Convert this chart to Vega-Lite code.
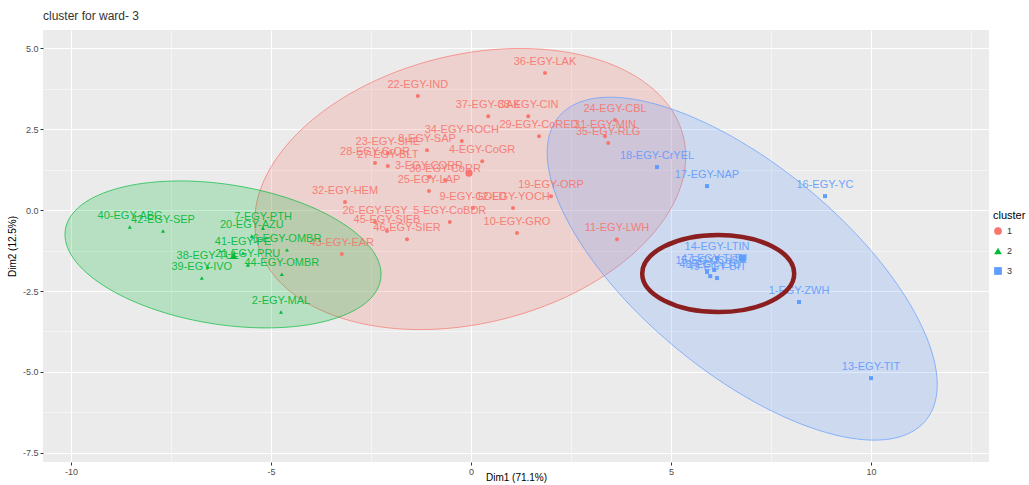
{
  "$schema": "https://vega.github.io/schema/vega-lite/v6.json",
  "width": 946,
  "height": 432,
  "autosize": "none",
  "padding": {"left": 43, "top": 30, "right": 40, "bottom": 23},
  "background": "white",
  "title": {"text": "cluster for ward- 3", "anchor": "start", "frame": "group", "fontSize": 12, "fontWeight": "normal", "color": "#333333", "offset": 7, "font": "Liberation Sans"},
  "config": {
    "font": "Liberation Sans",
    "view": {"fill": "#EBEBEB", "stroke": null},
    "axis": {"domain": false, "labelColor": "#4D4D4D", "labelFontSize": 9, "tickColor": "#333333", "tickSize": 3, "labelPadding": 2, "gridColor": "#FFFFFF", "titleFontSize": 10, "titleFontWeight": "normal", "titleColor": "#000000"},
    "legend": {"titleFontWeight": "normal", "titleFontSize": 11, "labelFontSize": 9, "titleColor": "#000000", "labelColor": "#333333"}
  },
  "datasets": {
    "pts": [
      {"name": "36-EGY-LAK", "cluster": "1", "Dim1": 1.85, "Dim2": 4.23},
      {"name": "22-EGY-IND", "cluster": "1", "Dim1": -1.33, "Dim2": 3.52},
      {"name": "37-EGY-OAK", "cluster": "1", "Dim1": 0.43, "Dim2": 2.9},
      {"name": "33-EGY-CIN", "cluster": "1", "Dim1": 1.43, "Dim2": 2.9},
      {"name": "29-EGY-CoRED", "cluster": "1", "Dim1": 1.7, "Dim2": 2.28},
      {"name": "31-EGY-MIN", "cluster": "1", "Dim1": 3.35, "Dim2": 2.28},
      {"name": "24-EGY-CBL", "cluster": "1", "Dim1": 3.6, "Dim2": 2.78},
      {"name": "35-EGY-RLG", "cluster": "1", "Dim1": 3.43, "Dim2": 2.07},
      {"name": "34-EGY-ROCH", "cluster": "1", "Dim1": -0.23, "Dim2": 2.13},
      {"name": "8-EGY-SAP", "cluster": "1", "Dim1": -1.1, "Dim2": 1.85},
      {"name": "23-EGY-SHE", "cluster": "1", "Dim1": -2.08, "Dim2": 1.76},
      {"name": "28-EGY-CrOR", "cluster": "1", "Dim1": -2.4, "Dim2": 1.45},
      {"name": "27-EGY-BLT", "cluster": "1", "Dim1": -2.08, "Dim2": 1.36},
      {"name": "3-EGY-CORR", "cluster": "1", "Dim1": -1.05, "Dim2": 1.02},
      {"name": "30-EGY-CoRR", "cluster": "1", "Dim1": -0.65, "Dim2": 0.93},
      {"name": "4-EGY-CoGR", "cluster": "1", "Dim1": 0.28, "Dim2": 1.51},
      {"name": "25-EGY-LAP", "cluster": "1", "Dim1": -1.05, "Dim2": 0.59},
      {"name": "32-EGY-HEM", "cluster": "1", "Dim1": -3.15, "Dim2": 0.25},
      {"name": "19-EGY-ORP", "cluster": "1", "Dim1": 2.0, "Dim2": 0.43},
      {"name": "9-EGY-GOLD", "cluster": "1", "Dim1": 0.05, "Dim2": 0.06},
      {"name": "12-EGY-YOCH", "cluster": "1", "Dim1": 1.05, "Dim2": 0.06},
      {"name": "5-EGY-CoBDR", "cluster": "1", "Dim1": -0.53, "Dim2": -0.37},
      {"name": "26-EGY-EGY", "cluster": "1", "Dim1": -2.4, "Dim2": -0.37},
      {"name": "45-EGY-SIEB", "cluster": "1", "Dim1": -2.1, "Dim2": -0.65},
      {"name": "46-EGY-SIER", "cluster": "1", "Dim1": -1.6, "Dim2": -0.9},
      {"name": "10-EGY-GRO", "cluster": "1", "Dim1": 1.15, "Dim2": -0.71},
      {"name": "43-EGY-EAR", "cluster": "1", "Dim1": -3.23, "Dim2": -1.36},
      {"name": "11-EGY-LWH", "cluster": "1", "Dim1": 3.65, "Dim2": -0.9},
      {"name": "40-EGY-ABC", "cluster": "2", "Dim1": -8.53, "Dim2": -0.52},
      {"name": "42-EGY-SEP", "cluster": "2", "Dim1": -7.7, "Dim2": -0.65},
      {"name": "7-EGY-PTH", "cluster": "2", "Dim1": -5.2, "Dim2": -0.56},
      {"name": "20-EGY-AZU", "cluster": "2", "Dim1": -5.48, "Dim2": -0.8},
      {"name": "41-EGY-PE", "cluster": "2", "Dim1": -5.7, "Dim2": -1.33},
      {"name": "6-EGY-OMBR", "cluster": "2", "Dim1": -4.6, "Dim2": -1.23},
      {"name": "38-EGY-TUL", "cluster": "2", "Dim1": -6.58, "Dim2": -1.76},
      {"name": "21-EGY-PRU", "cluster": "2", "Dim1": -5.58, "Dim2": -1.7},
      {"name": "39-EGY-IVO", "cluster": "2", "Dim1": -6.73, "Dim2": -2.1},
      {"name": "44-EGY-OMBR", "cluster": "2", "Dim1": -4.73, "Dim2": -1.98},
      {"name": "2-EGY-MAL", "cluster": "2", "Dim1": -4.75, "Dim2": -3.15},
      {"name": "18-EGY-CrYEL", "cluster": "3", "Dim1": 4.65, "Dim2": 1.33},
      {"name": "17-EGY-NAP", "cluster": "3", "Dim1": 5.9, "Dim2": 0.74},
      {"name": "16-EGY-YC", "cluster": "3", "Dim1": 8.85, "Dim2": 0.43},
      {"name": "14-EGY-LTIN", "cluster": "3", "Dim1": 6.15, "Dim2": -1.48},
      {"name": "15-EGY-CoS", "cluster": "3", "Dim1": 5.9, "Dim2": -1.91},
      {"name": "47-EGY-TITU", "cluster": "3", "Dim1": 6.08, "Dim2": -1.85},
      {"name": "48-EGY-LTU", "cluster": "3", "Dim1": 5.98, "Dim2": -2.04},
      {"name": "49-EGY-BIT", "cluster": "3", "Dim1": 6.15, "Dim2": -2.1},
      {"name": "1-EGY-ZWH", "cluster": "3", "Dim1": 8.2, "Dim2": -2.84},
      {"name": "13-EGY-TIT", "cluster": "3", "Dim1": 10.0, "Dim2": -5.19}
    ],
    "centers": [
      {"cluster": "1", "Dim1": -0.05, "Dim2": 1.14},
      {"cluster": "2", "Dim1": -5.93, "Dim2": -1.42},
      {"cluster": "3", "Dim1": 6.78, "Dim2": -1.48}
    ],
    "ellipses": [
      {"cluster": "1", "Dim1": -0.02, "Dim2": 0.65},
      {"cluster": "2", "Dim1": -6.2, "Dim2": -1.37},
      {"cluster": "3", "Dim1": 6.78, "Dim2": -1.81}
    ],
    "highlight": [
      {"note": "highlighted group", "Dim1": 6.18, "Dim2": -1.96}
    ]
  },
  "encoding": {
    "x": {"field": "Dim1", "type": "quantitative", "scale": {"domain": [-10.7, 12.95], "nice": false, "zero": false},
      "axis": {"title": "Dim1 (71.1%)", "titleBaseline": "top", "titleY": 10, "values": [-10, -7.5, -5, -2.5, 0, 2.5, 5, 7.5, 10, 12.5],
        "labelExpr": "datum.value % 5 === 0 ? '' + datum.value : ''",
        "gridWidth": {"condition": {"test": "datum.value % 5 !== 0", "value": 0.5}, "value": 1.1},
        "tickOpacity": {"condition": {"test": "datum.value % 5 !== 0", "value": 0}, "value": 1}}},
    "y": {"field": "Dim2", "type": "quantitative", "scale": {"domain": [-7.78, 5.56], "nice": false, "zero": false},
      "axis": {"title": "Dim2 (12.5%)", "titlePadding": 5, "values": [-7.5, -6.25, -5, -3.75, -2.5, -1.25, 0, 1.25, 2.5, 3.75, 5],
        "labelExpr": "datum.value % 2.5 !== 0 ? '' : (datum.value % 1 === 0 ? datum.value + '.0' : '' + datum.value)",
        "gridWidth": {"condition": {"test": "datum.value % 2.5 !== 0", "value": 0.5}, "value": 1.1},
        "tickOpacity": {"condition": {"test": "datum.value % 2.5 !== 0", "value": 0}, "value": 1}}}
  },
  "layer": [
    {
      "data": {"name": "ellipses"},
      "transform": [{"filter": "datum.cluster === '1'"}],
      "mark": {"type": "point", "shape": "M 219.5 0 C 219.5 74.1 121.2 134.2 0 134.2 C -121.2 134.2 -219.5 74.1 -219.5 0 C -219.5 -74.1 -121.2 -134.2 0 -134.2 C 121.2 -134.2 219.5 -74.1 219.5 0 Z", "size": 4, "angle": -13.9, "filled": true, "fill": "#F8766D", "fillOpacity": 0.22, "stroke": "#F8766D", "strokeOpacity": 0.8, "strokeWidth": 0.8, "opacity": 1}
    },
    {
      "data": {"name": "ellipses"},
      "transform": [{"filter": "datum.cluster === '2'"}],
      "mark": {"type": "point", "shape": "M 159.6 0 C 159.6 38.7 88.1 70 0 70 C -88.1 70 -159.6 38.7 -159.6 0 C -159.6 -38.7 -88.1 -70 0 -70 C 88.1 -70 159.6 -38.7 159.6 0 Z", "size": 4, "angle": 8.95, "filled": true, "fill": "#00BA38", "fillOpacity": 0.22, "stroke": "#00BA38", "strokeOpacity": 0.8, "strokeWidth": 0.8, "opacity": 1}
    },
    {
      "data": {"name": "ellipses"},
      "transform": [{"filter": "datum.cluster === '3'"}],
      "mark": {"type": "point", "shape": "M 238.2 0 C 238.2 57.1 131.6 103.3 0 103.3 C -131.6 103.3 -238.2 57.1 -238.2 0 C -238.2 -57.1 -131.6 -103.3 0 -103.3 C 131.6 -103.3 238.2 -57.1 238.2 0 Z", "size": 4, "angle": 39.6, "filled": true, "fill": "#619CFF", "fillOpacity": 0.22, "stroke": "#619CFF", "strokeOpacity": 0.8, "strokeWidth": 0.8, "opacity": 1}
    },
    {
      "data": {"name": "pts"},
      "mark": {"type": "point", "filled": true, "size": 16, "opacity": 1},
      "encoding": {
        "color": {"field": "cluster", "type": "nominal", "scale": {"domain": ["1", "2", "3"], "range": ["#F8766D", "#00BA38", "#619CFF"]},
          "legend": {"title": "cluster", "orient": "none", "legendX": 950, "legendY": 180, "symbolSize": 60, "rowPadding": 6, "symbolOpacity": 1}},
        "shape": {"field": "cluster", "type": "nominal", "scale": {"domain": ["1", "2", "3"], "range": ["circle", "triangle-up", "square"]},
          "legend": {"title": "cluster", "orient": "none", "legendX": 950, "legendY": 180, "symbolSize": 60, "rowPadding": 6, "symbolOpacity": 1}}
      }
    },
    {
      "data": {"name": "pts"},
      "mark": {"type": "text", "fontSize": 11, "dy": -11, "baseline": "middle", "align": "center", "opacity": 0.9},
      "encoding": {
        "text": {"field": "name"},
        "color": {"field": "cluster", "type": "nominal", "scale": {"domain": ["1", "2", "3"], "range": ["#F8766D", "#00BA38", "#619CFF"]},
          "legend": {"title": "cluster", "orient": "none", "legendX": 950, "legendY": 180, "symbolSize": 60, "rowPadding": 6, "symbolOpacity": 1}}
      }
    },
    {
      "data": {"name": "centers"},
      "mark": {"type": "point", "filled": true, "size": 50, "opacity": 1},
      "encoding": {
        "color": {"field": "cluster", "type": "nominal", "scale": {"domain": ["1", "2", "3"], "range": ["#F8766D", "#00BA38", "#619CFF"]},
          "legend": {"title": "cluster", "orient": "none", "legendX": 950, "legendY": 180, "symbolSize": 60, "rowPadding": 6, "symbolOpacity": 1}},
        "shape": {"field": "cluster", "type": "nominal", "scale": {"domain": ["1", "2", "3"], "range": ["circle", "triangle-up", "square"]},
          "legend": {"title": "cluster", "orient": "none", "legendX": 950, "legendY": 180, "symbolSize": 60, "rowPadding": 6, "symbolOpacity": 1}}
      }
    },
    {
      "data": {"name": "highlight"},
      "mark": {"type": "point", "shape": "M 76 0 C 76 21.3 42 38.5 0 38.5 C -42 38.5 -76 21.3 -76 0 C -76 -21.3 -42 -38.5 0 -38.5 C 42 -38.5 76 -21.3 76 0 Z", "size": 4, "filled": false, "fill": null, "stroke": "#8B1E1E", "strokeWidth": 4.5, "opacity": 1}
    }
  ]
}
